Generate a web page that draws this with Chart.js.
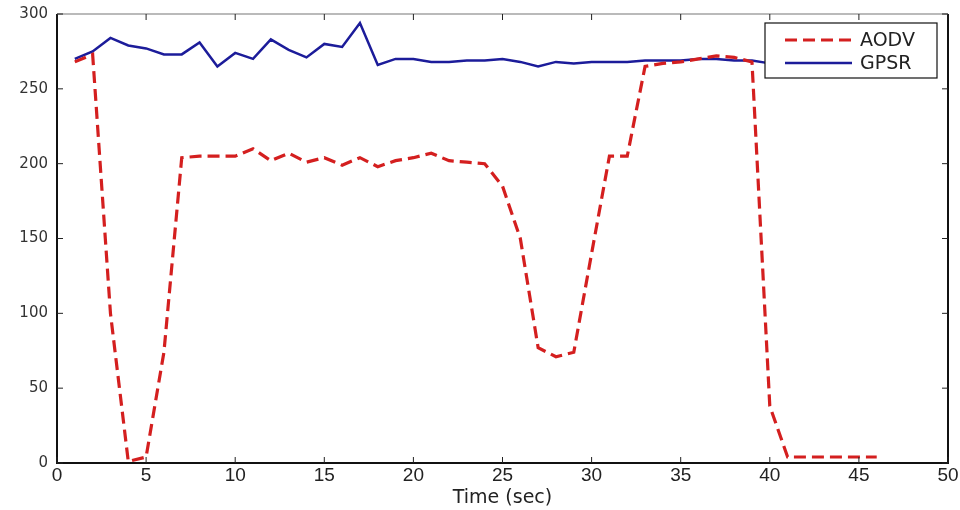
<!DOCTYPE html>
<html>
<head>
<meta charset="utf-8">
<script src="https://cdn.jsdelivr.net/npm/chart.js@4/dist/chart.umd.min.js"></script>
<style>
  html, body { margin: 0; padding: 0; background: #fff; }
  #wrap { width: 960px; height: 510px; position: relative; }
</style>
</head>
<body>
<div id="wrap"><canvas id="chart"></canvas></div>
<script>
// Time axis samples (sec)
const aodvTime = [1, 2, 3, 4, 5, 6, 7, 8, 9, 10, 11, 12, 13, 14, 15, 16, 17, 18, 19, 20,
    21, 22, 23, 24, 25, 26, 27, 28, 29, 30, 31, 32, 33, 34, 35, 36, 37, 38, 39, 40,
    41, 42, 43, 44, 45, 46];
const aodvValues = [268, 273, 100, 1, 4, 74, 204, 205, 205, 205, 210, 202, 207, 201, 204, 199, 204, 198, 202, 204,
    207, 202, 201, 200, 185, 150, 77, 71, 74, 140, 205, 205, 265, 267, 268, 270, 272, 271, 268, 38,
    4, 4, 4, 4, 4, 4];

const gpsrTime = [1, 2, 3, 4, 5, 6, 7, 8, 9, 10, 11, 12, 13, 14, 15, 16, 17, 18, 19, 20,
    21, 22, 23, 24, 25, 26, 27, 28, 29, 30, 31, 32, 33, 34, 35, 36, 37, 38, 39, 40];
const gpsrValues = [270, 275, 284, 279, 277, 273, 273, 281, 265, 274, 270, 283, 276, 271, 280, 278, 294, 266, 270, 270,
    268, 268, 269, 269, 270, 268, 265, 268, 267, 268, 268, 268, 269, 269, 269, 270, 270, 269, 269, 267];

const xTicks = [0, 5, 10, 15, 20, 25, 30, 35, 40, 45, 50];
const yTicks = [0, 50, 100, 150, 200, 250, 300];
const seriesNames = ['AODV', 'GPSR'];

const toPoints = (xs, ys) => xs.map((x, i) => ({ x: x, y: ys[i] }));

// MATLAB style box with inward ticks on all four sides
const boxTicks = {
    id: 'boxTicks',
    afterDatasetsDraw(chart) {
        const { ctx, chartArea: a, scales } = chart;
        const len = 6;
        ctx.save();
        ctx.strokeStyle = '#111';
        ctx.lineWidth = 2;
        ctx.beginPath();
        ctx.moveTo(a.right, a.top);
        ctx.lineTo(a.right, a.bottom);
        ctx.lineTo(a.left, a.bottom);
        ctx.lineTo(a.left, a.top);
        ctx.stroke();
        ctx.strokeStyle = '#777';
        ctx.lineWidth = 1.2;
        ctx.beginPath();
        ctx.moveTo(a.left, a.top);
        ctx.lineTo(a.right, a.top);
        ctx.stroke();
        ctx.strokeStyle = '#222';
        ctx.lineWidth = 1;
        ctx.beginPath();
        xTicks.forEach(v => {
            const px = scales.x.getPixelForValue(v);
            ctx.moveTo(px, a.bottom); ctx.lineTo(px, a.bottom - len);
            ctx.moveTo(px, a.top); ctx.lineTo(px, a.top + len);
        });
        yTicks.forEach(v => {
            const py = scales.y.getPixelForValue(v);
            ctx.moveTo(a.left, py); ctx.lineTo(a.left + len, py);
            ctx.moveTo(a.right, py); ctx.lineTo(a.right - len, py);
        });
        ctx.stroke();
        ctx.restore();
    }
};

// Boxed legend in the top right corner
const boxLegend = {
    id: 'boxLegend',
    afterDraw(chart) {
        const { ctx, chartArea: a } = chart;
        const w = 172, h = 55;
        const x0 = a.right - 11 - w, y0 = a.top + 9;
        ctx.save();
        ctx.fillStyle = '#fff';
        ctx.fillRect(x0, y0, w, h);
        ctx.strokeStyle = '#111';
        ctx.lineWidth = 1.2;
        ctx.strokeRect(x0, y0, w, h);
        ctx.font = '19px "DejaVu Sans", sans-serif';
        ctx.textBaseline = 'middle';
        chart.data.datasets.forEach((ds, i) => {
            const cy = y0 + 17 + i * 23;
            ctx.strokeStyle = ds.borderColor;
            ctx.lineWidth = ds.borderWidth;
            ctx.setLineDash(ds.borderDash || []);
            ctx.beginPath();
            ctx.moveTo(x0 + 20, cy);
            ctx.lineTo(x0 + 87, cy);
            ctx.stroke();
            ctx.setLineDash([]);
            ctx.fillStyle = '#222';
            ctx.fillText(ds.label, x0 + 95, cy + 1);
        });
        ctx.restore();
    }
};

new Chart(document.getElementById('chart'), {
    type: 'line',
    data: {
        datasets: [{
            label: seriesNames[0],
            data: toPoints(aodvTime, aodvValues),
            borderColor: '#d41f1f',
            borderWidth: 3.2,
            borderDash: [12, 6],
            pointRadius: 0,
            tension: 0,
            fill: false
        }, {
            label: seriesNames[1],
            data: toPoints(gpsrTime, gpsrValues),
            borderColor: '#1c1c9a',
            borderWidth: 2.5,
            pointRadius: 0,
            tension: 0,
            fill: false
        }]
    },
    options: {
        responsive: true,
        maintainAspectRatio: false,
        animation: false,
        layout: { padding: { top: 14, right: 12, left: 0, bottom: 0 } },
        plugins: {
            legend: { display: false },
            tooltip: { enabled: false }
        },
        scales: {
            x: {
                type: 'linear',
                min: 0,
                max: 50,
                grid: { display: false, drawTicks: false },
                border: { display: false },
                afterBuildTicks: s => { s.ticks = xTicks.map(v => ({ value: v })); },
                afterFit: s => { s.height = 47; },
                ticks: {
                    color: '#222',
                    padding: 1,
                    maxRotation: 0,
                    font: { family: '"Liberation Sans", Arial, sans-serif', size: 19 }
                },
                title: {
                    display: true,
                    text: 'Time (sec)',
                    color: '#222',
                    padding: { top: 0, bottom: 1 },
                    font: { family: '"DejaVu Sans", sans-serif', size: 19 }
                }
            },
            y: {
                min: 0,
                max: 300,
                grid: { display: false, drawTicks: false },
                border: { display: false },
                afterBuildTicks: s => { s.ticks = yTicks.map(v => ({ value: v })); },
                afterFit: s => { s.width = 57; s.paddingTop = 0; s.paddingBottom = 0; },
                ticks: {
                    color: '#333',
                    padding: 9,
                    font: { family: '"DejaVu Sans", sans-serif', size: 15 }
                }
            }
        }
    },
    plugins: [boxTicks, boxLegend]
});
</script>
</body>
</html>
